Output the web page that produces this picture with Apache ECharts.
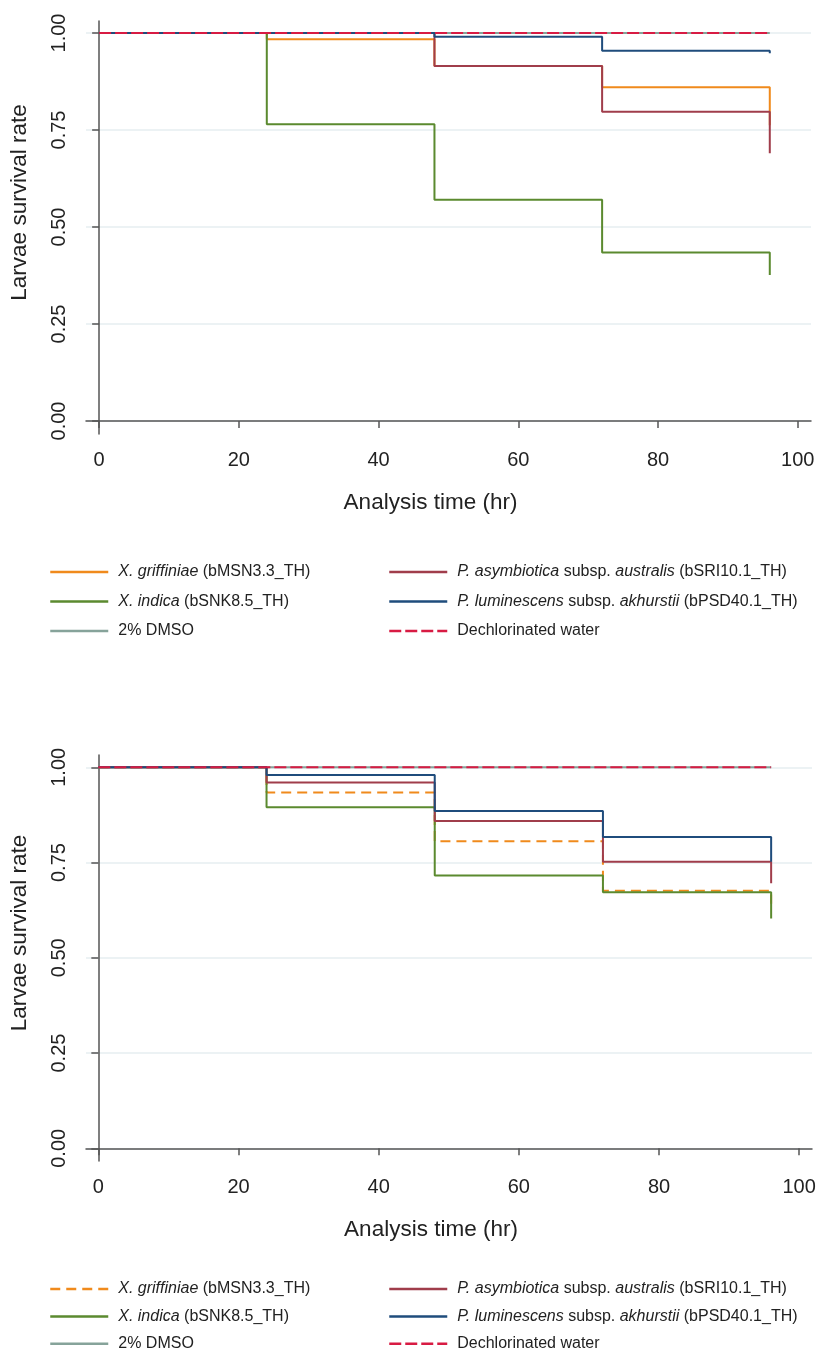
<!DOCTYPE html>
<html>
<head>
<meta charset="utf-8">
<script src="https://cdn.jsdelivr.net/npm/echarts@6/dist/echarts.min.js"></script>
<style>
  html, body { margin: 0; padding: 0; background: #fff; }
  #chart { width: 819px; height: 1354px; }
</style>
</head>
<body>
<div id="chart"></div>
<script>
// analysis time (hr)
var hours = [0, 24, 48, 72, 96];
var xTicks = [0, 20, 40, 60, 80, 100];
var yTicks = [0, 0.25, 0.5, 0.75, 1];

// panel 1 survival estimates
var top_griffiniae = [1, 0.984, 0.915, 0.86, 0.762];
var top_indica = [1, 0.765, 0.57, 0.434, 0.376];
var top_dmso = [1, 1, 1, 1, 1];
var top_asymbiotica = [1, 1, 0.915, 0.797, 0.69];
var top_luminescens = [1, 1, 0.99, 0.954, 0.948];
var top_water = [1, 1, 1, 1, 1];

// panel 2 survival estimates
var bot_griffiniae = [1, 0.934, 0.806, 0.676, 0.642];
var bot_indica = [1, 0.895, 0.716, 0.672, 0.603];
var bot_dmso = [1, 1, 1, 1, 1];
var bot_asymbiotica = [1, 0.96, 0.859, 0.752, 0.696];
var bot_luminescens = [1, 0.98, 0.885, 0.817, 0.752];
var bot_water = [1, 1, 1, 1, 1];

var labels = {
  griffiniae: "{i|X. griffiniae} (bMSN3.3_TH)",
  indica: "{i|X. indica} (bSNK8.5_TH)",
  dmso: "2% DMSO",
  asymbiotica: "{i|P. asymbiotica} subsp. {i|australis} (bSRI10.1_TH)",
  luminescens: "{i|P. luminescens} subsp. {i|akhurstii} (bPSD40.1_TH)",
  water: "Dechlorinated water"
};

var colors = {
  griffiniae: "#f08a1c",
  indica: "#5b8a2f",
  dmso: "#86a39a",
  asymbiotica: "#a03d4b",
  luminescens: "#1f4c7c",
  water: "#d81b43"
};

var FONT = "'Liberation Sans', Arial, sans-serif";
var txt = "#222";

function pairs(vals) {
  return hours.map(function (h, i) { return [h, vals[i]]; });
}

function line(key, panel, vals, dash) {
  return {
    name: panel + key,
    type: "line",
    step: "end",
    xAxisIndex: panel == "t_" ? 0 : 1,
    yAxisIndex: panel == "t_" ? 0 : 1,
    symbol: "none",
    animation: false,
    lineStyle: {
      color: colors[key],
      width: 2,
      type: dash || "solid"
    },
    itemStyle: { color: colors[key] },
    data: pairs(vals)
  };
}

function xAxis(gridIndex, min, max) {
  return {
    type: "value",
    gridIndex: gridIndex,
    min: min,
    max: max,
    name: "Analysis time (hr)",
    nameLocation: "middle",
    nameGap: 57,
    nameTextStyle: { fontFamily: FONT, fontSize: 22.5, color: txt, padding: [0, 36, 0, 0] },
    axisLine: { show: true, lineStyle: { color: "#555", width: 1.5 } },
    axisTick: { show: true, length: 7, customValues: xTicks, lineStyle: { color: "#555", width: 1.5 } },
    axisLabel: { customValues: xTicks, margin: 16, fontFamily: FONT, fontSize: 20, color: txt },
    splitLine: { show: false }
  };
}

function yAxis(gridIndex, min, max) {
  return {
    type: "value",
    gridIndex: gridIndex,
    min: min,
    max: max,
    name: "Larvae survival rate",
    nameLocation: "middle",
    nameGap: 55,
    nameRotate: 90,
    nameTextStyle: { fontFamily: FONT, fontSize: 22.5, color: txt, padding: [0, 0, 0, 50] },
    axisLine: { show: true, lineStyle: { color: "#555", width: 1.5 } },
    axisTick: { show: true, length: 7, customValues: yTicks, lineStyle: { color: "#555", width: 1.5 } },
    axisLabel: {
      customValues: yTicks,
      rotate: 90,
      margin: 17,
      fontFamily: FONT,
      fontSize: 20,
      color: txt,
      formatter: function (v) { return v.toFixed(2); }
    },
    splitLine: { show: true, lineStyle: { color: "#e6eef0", width: 1.5 } }
  };
}

function legend(panel, keys, left, top, gap) {
  return {
    left: left,
    top: top,
    orient: "vertical",
    padding: 0,
    itemWidth: 58,
    itemHeight: 14,
    itemGap: gap,
    selectedMode: false,
    itemStyle: { opacity: 0 },
    lineStyle: { width: 2.5 },
    data: keys.map(function (k) { return panel + k; }),
    formatter: function (name) { return labels[name.slice(2)]; },
    textStyle: {
      fontFamily: FONT,
      fontSize: 16,
      color: txt,
      lineHeight: 18,
      padding: [0, 0, 0, 5],
      rich: { i: { fontStyle: "italic", fontFamily: FONT, fontSize: 16, color: txt } }
    }
  };
}

var chart = echarts.init(document.getElementById("chart"), null, { renderer: "canvas" });

var option = {
  backgroundColor: "#fff",
  animation: false,
  grid: [
    { left: 82.5, top: 21, width: 728.5, height: 413 },
    { left: 83.3, top: 755, width: 728.7, height: 406 }
  ],
  xAxis: [xAxis(0, -1.88, 101.9), xAxis(1, -1.76, 101.83)],
  yAxis: [yAxis(0, -0.0335, 1.0309), yAxis(1, -0.0333, 1.0323)],
  legend: [
    legend("t_", ["griffiniae", "indica", "dmso"], 49, 563, 11.5),
    legend("t_", ["asymbiotica", "luminescens", "water"], 388, 563, 11.5),
    legend("b_", ["griffiniae", "indica", "dmso"], 49, 1280, 9.4),
    legend("b_", ["asymbiotica", "luminescens", "water"], 388, 1280, 9.4)
  ],
  series: [
    line("griffiniae", "t_", top_griffiniae),
    line("indica", "t_", top_indica),
    line("dmso", "t_", top_dmso),
    line("asymbiotica", "t_", top_asymbiotica),
    line("luminescens", "t_", top_luminescens),
    line("water", "t_", top_water, [12, 4]),
    line("griffiniae", "b_", bot_griffiniae, [10, 6]),
    line("indica", "b_", bot_indica),
    line("dmso", "b_", bot_dmso),
    line("asymbiotica", "b_", bot_asymbiotica),
    line("luminescens", "b_", bot_luminescens),
    line("water", "b_", bot_water, [12, 4])
  ]
};

chart.setOption(option);
</script>
</body>
</html>
